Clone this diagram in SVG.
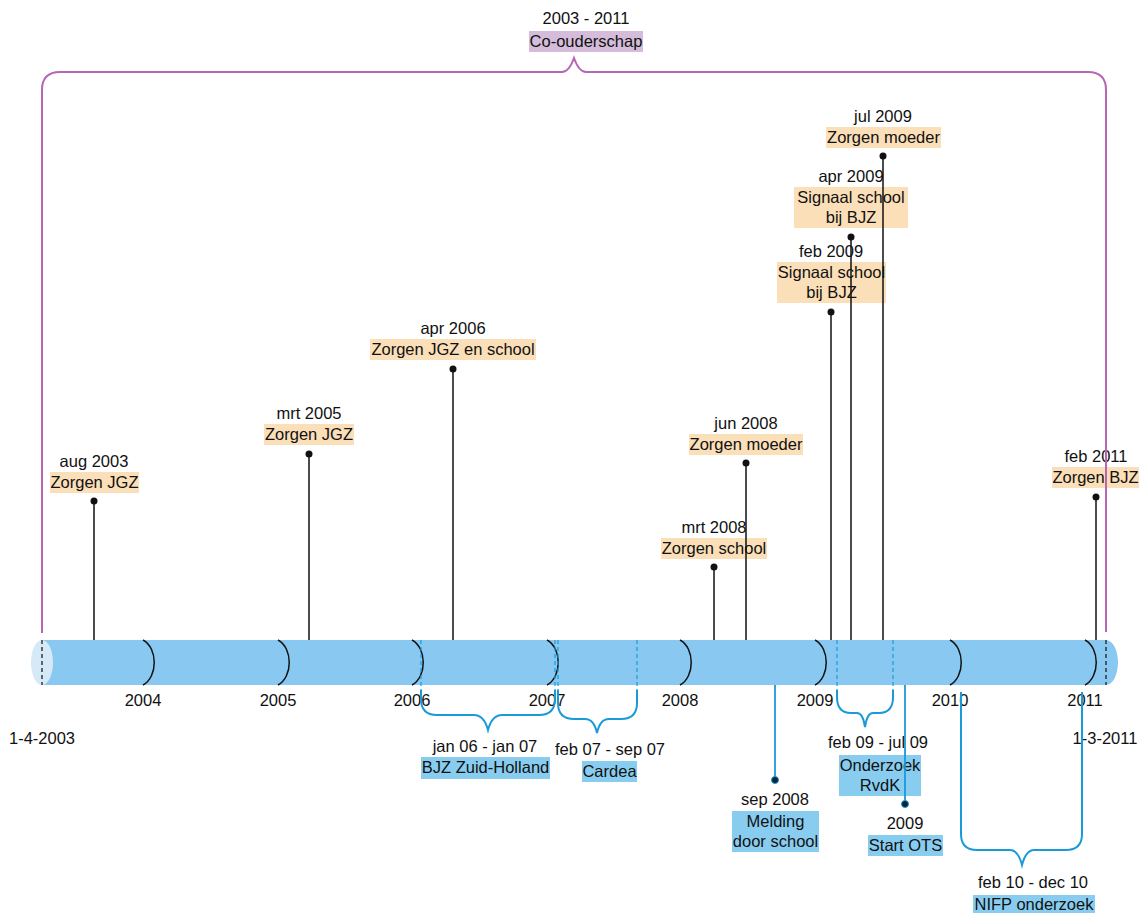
<svg xmlns="http://www.w3.org/2000/svg" width="1145" height="913" viewBox="0 0 1145 913">
<style>
.t{font-family:"Liberation Sans",Arial,sans-serif;font-size:16.5px;fill:#111;text-anchor:middle}
.ob{fill:#fbdfb8}
.bb{fill:#88cdf0}
.pb{fill:#d4bcda}
.pin{stroke:#111;stroke-width:1.5}
.bpin{stroke:#1a9ad9;stroke-width:1.8}
.dot{fill:#111}
.bdot{fill:#0b2233;stroke:#1a9ad9;stroke-width:1}
.brace{fill:none;stroke:#1a9ad9;stroke-width:2}
.pbrace{fill:none;stroke:#b866b3;stroke-width:2}
.yr{fill:none;stroke:#111;stroke-width:1.5}
.dash{stroke:#111;stroke-width:1.2;stroke-dasharray:4 3}
.bdash{stroke:#1a9ad9;stroke-width:1.2;stroke-dasharray:4 3}
</style>
<rect width="1145" height="913" fill="#fff"/>

<g id="timeline">
  <path d="M42 640 L1106 640 A12 22.5 0 0 1 1106 685 L42 685 Z" fill="#89c8f0"/>
  <ellipse cx="42" cy="662.5" rx="11" ry="22.5" fill="#d5e9f6"/>
  <line class="dash" x1="42" y1="640" x2="42" y2="685"/>
  <line class="dash" x1="1106" y1="640" x2="1106" y2="685"/>
  <path class="yr" d="M143 640 C158 648 158 677 143 685"/>
  <path class="yr" d="M278 640 C293 648 293 677 278 685"/>
  <path class="yr" d="M412 640 C427 648 427 677 412 685"/>
  <path class="yr" d="M547 640 C562 648 562 677 547 685"/>
  <path class="yr" d="M680 640 C695 648 695 677 680 685"/>
  <path class="yr" d="M815 640 C830 648 830 677 815 685"/>
  <path class="yr" d="M950 640 C965 648 965 677 950 685"/>
  <path class="yr" d="M1085 640 C1100 648 1100 677 1085 685"/>
  <line class="bdash" x1="421" y1="640" x2="421" y2="690"/>
  <line class="bdash" x1="555" y1="640" x2="555" y2="690"/>
  <line class="bdash" x1="558" y1="640" x2="558" y2="690"/>
  <line class="bdash" x1="637" y1="640" x2="637" y2="690"/>
  <line class="bdash" x1="837" y1="640" x2="837" y2="690"/>
  <line class="bdash" x1="893" y1="640" x2="893" y2="690"/>
  <text class="t" x="143" y="706">2004</text>
  <text class="t" x="278" y="706">2005</text>
  <text class="t" x="412" y="706">2006</text>
  <text class="t" x="547" y="706">2007</text>
  <text class="t" x="680" y="706">2008</text>
  <text class="t" x="815" y="706">2009</text>
  <text class="t" x="950" y="706">2010</text>
  <text class="t" x="1085" y="706">2011</text>
  <text class="t" x="42" y="744">1-4-2003</text>
  <text class="t" x="1105" y="744">1-3-2011</text>
</g>

<g id="n-coouderschap">
  <text class="t" x="586" y="24">2003 - 2011</text>
  <rect class="pb" x="529" y="31" width="114" height="21"/>
  <text class="t" x="586" y="47">Co-ouderschap</text>
</g>
<g id="n-aug2003">
  <text class="t" x="94" y="467">aug 2003</text>
  <rect class="ob" x="50" y="472" width="89" height="21"/>
  <text class="t" x="94.5" y="488">Zorgen JGZ</text>
</g>
<g id="n-mrt2005">
  <text class="t" x="309" y="419">mrt 2005</text>
  <rect class="ob" x="264" y="424" width="90" height="21"/>
  <text class="t" x="309" y="440">Zorgen JGZ</text>
</g>
<g id="n-apr2006">
  <text class="t" x="453" y="334">apr 2006</text>
  <rect class="ob" x="370" y="339" width="166" height="21"/>
  <text class="t" x="453" y="355">Zorgen JGZ en school</text>
</g>
<g id="n-mrt2008">
  <text class="t" x="714" y="533">mrt 2008</text>
  <rect class="ob" x="661" y="538" width="106" height="21"/>
  <text class="t" x="714" y="554">Zorgen school</text>
</g>
<g id="n-jun2008">
  <text class="t" x="746" y="429">jun 2008</text>
  <rect class="ob" x="689" y="434" width="114" height="21"/>
  <text class="t" x="746" y="450">Zorgen moeder</text>
</g>
<g id="n-feb2009">
  <text class="t" x="831" y="257">feb 2009</text>
  <rect class="ob" x="777" y="262" width="109" height="41"/>
  <text class="t" x="831.5" y="278">Signaal school</text>
  <text class="t" x="831.5" y="298">bij BJZ</text>
</g>
<g id="n-apr2009">
  <text class="t" x="851" y="182">apr 2009</text>
  <rect class="ob" x="794" y="187" width="114" height="41"/>
  <text class="t" x="851" y="203">Signaal school</text>
  <text class="t" x="851" y="223">bij BJZ</text>
</g>
<g id="n-jul2009">
  <text class="t" x="883" y="122">jul 2009</text>
  <rect class="ob" x="826" y="127" width="115" height="21"/>
  <text class="t" x="883.5" y="143">Zorgen moeder</text>
</g>
<g id="n-feb2011">
  <text class="t" x="1096" y="462">feb 2011</text>
  <rect class="ob" x="1052" y="467" width="87" height="21"/>
  <text class="t" x="1095.5" y="483">Zorgen BJZ</text>
</g>
<g id="n-sep2008">
  <text class="t" x="775" y="805">sep 2008</text>
  <rect class="bb" x="732" y="811" width="87" height="41"/>
  <text class="t" x="775.5" y="827">Melding</text>
  <text class="t" x="775.5" y="847">door school</text>
</g>
<g id="n-ots2009">
  <text class="t" x="905" y="829">2009</text>
  <rect class="bb" x="868" y="835" width="75" height="21"/>
  <text class="t" x="905.5" y="851">Start OTS</text>
</g>
<g id="n-bjz">
  <text class="t" x="485" y="752">jan 06 - jan 07</text>
  <rect class="bb" x="421" y="757" width="129" height="22"/>
  <text class="t" x="485.5" y="773">BJZ Zuid-Holland</text>
</g>
<g id="n-cardea">
  <text class="t" x="610" y="755">feb 07 - sep 07</text>
  <rect class="bb" x="582" y="761" width="55" height="21"/>
  <text class="t" x="609.5" y="777">Cardea</text>
</g>
<g id="n-rvdk">
  <text class="t" x="878" y="748">feb 09 - jul 09</text>
  <rect class="bb" x="839" y="755" width="82" height="41"/>
  <text class="t" x="880" y="771">Onderzoek</text>
  <text class="t" x="880" y="791">RvdK</text>
</g>
<g id="n-nifp">
  <text class="t" x="1033" y="888">feb 10 - dec 10</text>
  <rect class="bb" x="973" y="895" width="122" height="21"/>
  <text class="t" x="1034" y="910">NIFP onderzoek</text>
</g>

<g id="connectors">
  <path class="pbrace" d="M42 633 L42 90 Q42 72 60 72 L562 72 Q569 72 574 58 Q579 72 586 72 L1088 72 Q1106 72 1106 90 L1106 632"/>
  <line class="pin" x1="94" y1="501" x2="94" y2="640"/><circle class="dot" cx="94" cy="501" r="3.5"/>
  <line class="pin" x1="309" y1="454" x2="309" y2="640"/><circle class="dot" cx="309" cy="454" r="3.5"/>
  <line class="pin" x1="453" y1="369" x2="453" y2="640"/><circle class="dot" cx="453" cy="369" r="3.5"/>
  <line class="pin" x1="714" y1="567" x2="714" y2="640"/><circle class="dot" cx="714" cy="567" r="3.5"/>
  <line class="pin" x1="746" y1="463" x2="746" y2="640"/><circle class="dot" cx="746" cy="463" r="3.5"/>
  <line class="pin" x1="831" y1="312" x2="831" y2="640"/><circle class="dot" cx="831" cy="312" r="3.5"/>
  <line class="pin" x1="851" y1="237" x2="851" y2="640"/><circle class="dot" cx="851" cy="237" r="3.5"/>
  <line class="pin" x1="883" y1="156" x2="883" y2="640"/><circle class="dot" cx="883" cy="156" r="3.5"/>
  <line class="pin" x1="1096" y1="497" x2="1096" y2="640"/><circle class="dot" cx="1096" cy="497" r="3.5"/>
  <line class="bpin" x1="775" y1="685" x2="775" y2="780"/><circle class="bdot" cx="775" cy="780" r="3.5"/>
  <line class="bpin" x1="905" y1="685" x2="905" y2="804"/><circle class="bdot" cx="905" cy="804" r="3.5"/>
  <path class="brace" d="M421 690 L421 699 Q421 715 437 715 L474 715 Q484 715 488 730 Q492 715 502 715 L539 715 Q555 715 555 699 L555 690"/>
  <path class="brace" d="M558 690 L558 703 Q558 719 574 719 L585 719 Q594 719 597 733 Q600 719 609 719 L621 719 Q637 719 637 703 L637 690"/>
  <path class="brace" d="M837 690 L837 697 Q837 713 851 713 L857 713 Q863 713 865 727 Q867 713 873 713 L879 713 Q893 713 893 697 L893 690"/>
  <path class="brace" d="M961 692 L961 834 Q961 850 977 850 L1010 850 Q1018 850 1022 865 Q1026 850 1034 850 L1066 850 Q1082 850 1082 834 L1082 692"/>
</g>
</svg>
